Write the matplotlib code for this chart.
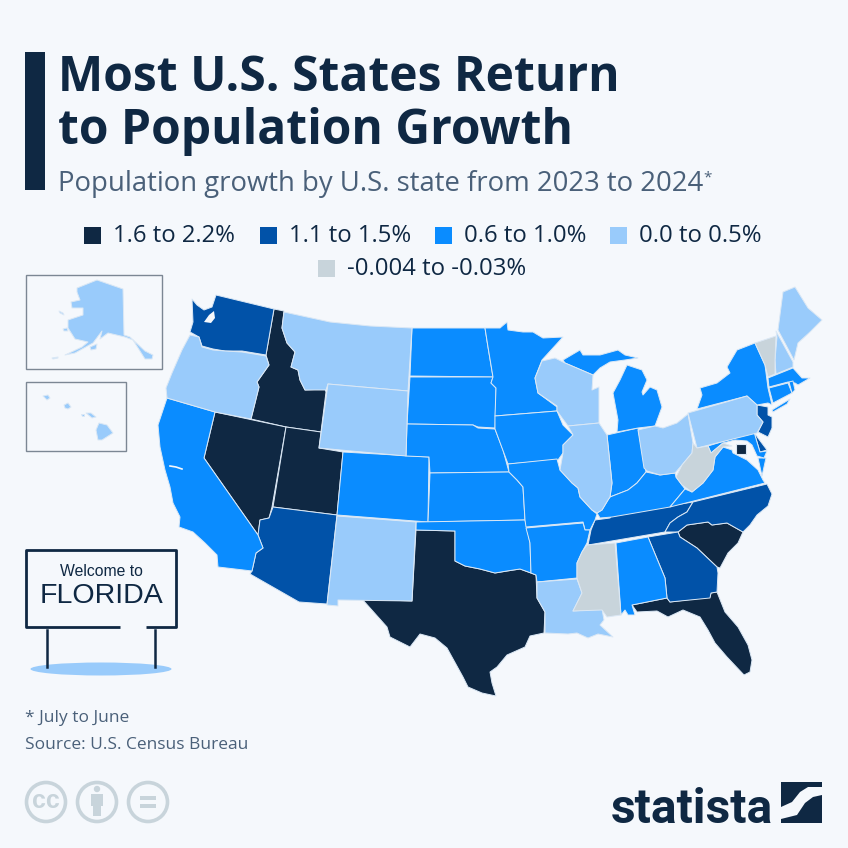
import matplotlib
matplotlib.use("Agg")
import matplotlib.pyplot as plt
from matplotlib.patches import Polygon, Ellipse, Rectangle, Circle

# state outlines (pixels)
WA = [(192,299),(197,305),(204,310),(212,307),(216,295),(274,309),(266,355),(242,351),(225,351),(213,349),(202,346),(199,337),(190,332),(193,322)]
OR = [(190,335),(199,337),(202,347),(213,350),(225,351),(242,352),(266,356),(269,365),(257,382),(259,387),(251,419),(215,412),(167,398),(166,388),(172,373),(182,350)]
CA = [(167,398),(215,412),(204,458),(258,535),(263,548),(256,553),(252,571),(218,567),(217,555),(205,543),(193,532),(179,527),(180,517),(173,503),(170,487),(165,470),(160,447),(158,425)]
NV = [(215,412),(286,427),(272,507),(269,518),(260,520),(258,535),(204,458)]
ID = [(274,309),(284,311),(282,328),(287,343),(295,352),(291,367),(298,370),(300,380),(305,390),(325,389),(326,392),(321,432),(286,427),(251,419),(259,387),(257,382),(269,365),(266,355)]
MT = [(284,312),(330,322),(370,326),(412,328),(408,391),(328,384),(326,390),(305,390),(300,380),(298,370),(291,367),(295,352),(287,343),(282,328)]
WY = [(328,384),(408,391),(406,456),(319,448)]
UT = [(286,427),(321,432),(319,448),(343,452),(337,515),(273,507)]
AZ = [(273,507),(337,515),(327,604),(299,602),(250,574),(252,571),(256,553),(263,548),(258,535),(260,520),(269,518)]
CO = [(343,452),(429,457),(428,522),(337,515)]
NM = [(337,516),(416,522),(412,601),(338,600),(338,606),(327,605)]
ND = [(412,328),(485,328),(488,347),(493,377),(410,376)]
SD = [(410,377),(493,377),(491,383),(496,388),(495,428),(478,427),(473,425),(407,424)]
NE = [(407,424),(473,425),(478,428),(495,429),(503,450),(509,472),(430,473),(429,457),(406,456)]
KS = [(430,473),(509,472),(517,480),(523,487),(525,520),(428,522)]
OK = [(416,522),(525,520),(527,528),(530,543),(531,573),(520,569),(507,571),(495,573),(480,569),(465,566),(455,561),(455,531),(416,530)]
TX = [(416,530),(455,531),(455,561),(465,566),(480,569),(495,573),(507,571),(520,569),(531,573),(536,575),(537,598),(545,612),(544,633),(530,636),(525,647),(507,655),(497,667),(490,672),(492,683),(496,696),(482,693),(468,687),(463,677),(447,648),(435,638),(420,634),(410,647),(390,637),(387,627),(362,599),(412,601)]
MN = [(485,328),(500,328),(507,322),(508,330),(523,332),(533,332),(543,338),(563,337),(542,360),(535,378),(538,393),(557,407),(557,411),(495,416),(496,388),(491,383),(493,377),(488,347)]
IA = [(495,416),(557,411),(563,425),(573,435),(563,445),(563,453),(558,460),(508,464),(495,429)]
MO = [(508,464),(557,459),(560,470),(572,483),(578,488),(580,497),(592,510),(597,514),(595,520),(590,530),(585,530),(583,522),(526,527),(525,520),(523,487),(517,480),(509,472)]
AR = [(526,528),(583,523),(585,530),(590,530),(587,543),(582,552),(577,563),(577,578),(537,582),(536,575),(531,573),(530,543)]
LA = [(537,582),(577,579),(582,593),(573,611),(602,609),(604,620),(600,625),(613,637),(598,634),(588,638),(577,633),(568,634),(545,633),(545,612),(537,598)]
MS = [(587,545),(615,543),(621,615),(607,617),(602,610),(573,611),(582,593),(577,578),(577,563),(582,552)]
AL = [(616,543),(648,537),(665,578),(667,598),(632,605),(635,615),(628,615),(625,610),(621,615)]
TN = [(595,520),(610,518),(612,515),(693,502),(687,512),(678,517),(670,523),(665,532),(588,545),(591,530)]
GA = [(648,537),(678,532),(680,537),(697,548),(717,567),(718,573),(717,592),(711,593),(710,598),(670,602),(667,598),(665,578)]
SC = [(678,532),(687,525),(708,522),(712,525),(727,523),(743,532),(738,543),(728,553),(720,568),(717,567),(697,548),(680,537)]
NC = [(767,484),(772,494),(768,506),(757,515),(750,525),(743,532),(727,523),(712,525),(708,522),(687,525),(678,532),(665,532),(670,523),(678,517),(687,512),(693,502)]
FL = [(632,605),(667,598),(670,602),(710,597),(711,593),(717,592),(725,612),(738,627),(748,645),(752,660),(750,672),(744,675),(727,657),(715,643),(708,630),(700,617),(683,610),(668,617),(657,611),(637,612)]
VA = [(670,507),(685,489),(692,492),(703,483),(713,470),(715,457),(723,447),(732,450),(733,453),(747,460),(758,470),(763,480),(765,483)]
VA_SHORE = [(758,458),(766,458),(762,476)]
WV = [(693,443),(697,448),(708,446),(711,453),(723,443),(732,446),(723,447),(715,457),(713,470),(703,483),(692,492),(682,485),(676,477),(682,465),(692,453)]
PA = [(688,413),(747,396),(757,405),(757,415),(763,422),(757,433),(697,448)]
OH = [(638,430),(655,426),(663,428),(677,423),(688,414),(693,443),(692,453),(682,465),(675,473),(660,475),(647,471),(644,468)]
IN = [(607,435),(638,428),(646,472),(637,483),(628,490),(610,497),(612,483)]
IL = [(568,426),(599,423),(607,435),(612,483),(610,497),(608,500),(602,510),(597,513),(592,510),(580,497),(578,488),(572,483),(560,470),(563,453),(563,445),(573,435)]
WI = [(542,361),(555,358),(565,363),(593,375),(592,390),(599,387),(599,423),(568,426),(557,411),(557,406),(538,393),(535,378)]
MI_LOWER = [(617,432),(638,428),(655,426),(662,407),(657,390),(650,387),(643,395),(642,392),(647,380),(642,370),(627,365),(620,380),(613,393),(618,420)]
MI_UPPER = [(563,360),(580,350),(583,355),(600,355),(618,350),(625,355),(638,358),(625,360),(610,362),(600,368),(593,375),(565,363)]
KY = [(610,497),(628,490),(637,483),(646,472),(660,475),(675,473),(676,477),(682,485),(685,489),(670,507),(612,517),(600,518),(597,513),(602,510),(608,500)]
NY = [(697,409),(702,395),(700,388),(717,383),(730,373),(727,367),(737,350),(755,343),(765,365),(768,388),(772,405),(768,403),(757,405),(747,396)]
LONG_ISLAND = [(772,410),(790,399),(787,404),(773,412)]
VT = [(755,343),(776,336),(775,360),(775,374),(768,377),(765,365)]
NH = [(776,331),(793,362),(793,367),(776,374),(775,360),(777,337)]
ME = [(778,330),(783,292),(795,287),(808,308),(822,320),(810,332),(798,343),(794,360)]
MA = [(768,378),(793,368),(802,378),(810,378),(798,385),(795,383),(788,382),(769,387)]
CT = [(769,388),(788,383),(792,393),(773,403)]
RI = [(789,382),(793,381),(795,390),(792,393)]
NJ = [(757,405),(768,407),(768,415),(772,417),(772,428),(768,437),(758,432),(763,422),(757,415)]
DE = [(754,432),(758,438),(767,450),(760,452)]
MD = [(708,446),(754,432),(760,452),(767,451),(764,458),(757,456),(752,445),(747,441),(735,440),(723,443),(711,453)]
AK = [(77,288),(97,280),(123,289),(124,335),(130,337),(145,351),(153,355),(152,359),(145,359),(133,340),(125,337),(108,333),(100,339),(102,331),(93,343),(75,353),(65,355),(82,347),(88,342),(75,339),(68,328),(68,320),(83,315),(83,308),(72,308),(71,302),(80,300),(77,292)]
AK_ISLE1 = [(59,311),(63,313),(64,315),(60,313)]
AK_ISLE2 = [(63,329),(67,328),(68,331),(64,331)]
AK_ISLE3 = [(90,347),(97,344),(96,349),(91,350)]
AK_ISLE4 = [(52,358),(58,357),(58,358),(53,359)]
HI_1 = [(43,396),(48,395),(50,398),(47,400)]
HI_2 = [(64,405),(68,403),(71,407),(68,409),(65,408)]
HI_3 = [(81,414),(84,414),(84,416),(82,416)]
HI_4 = [(86,413),(91,413),(96,417),(92,418)]
HI_5 = [(99,423),(107,425),(113,433),(102,440),(98,440),(96,430)]

# growth classes, see legend
labels = ["1.6 to 2.2%", "1.1 to 1.5%", "0.6 to 1.0%", "0.0 to 0.5%", "-0.004 to -0.03%"]
colors = ["#0f2843", "#0152a8", "#0a8cff", "#99cbfb", "#c8d4db"]
class_16_22 = [ID, NV, UT, TX, FL, SC]
class_11_15 = [WA, AZ, TN, NC, GA, NJ, DE]
class_06_10 = [CA, CO, ND, SD, NE, KS, OK, MN, IA, MO, AR, AL, IN, MI_LOWER, MI_UPPER, KY, VA, VA_SHORE, NY, LONG_ISLAND, MA, CT, RI, MD]
class_00_05 = [OR, MT, WY, NM, WI, IL, LA, OH, PA, ME, NH, AK, AK_ISLE1, AK_ISLE2, AK_ISLE3, AK_ISLE4, HI_1, HI_2, HI_3, HI_4, HI_5]
class_neg = [MS, WV, VT]

bg = "#f5f8fc"
dark = "#0f2843"
grey_text = "#4a6079"
edge = "#dbe8f5"

fig = plt.figure(figsize=(8.48, 8.48), dpi=100, facecolor=bg)
ax = fig.add_axes([0, 0, 1, 1])
ax.set_xlim(0, 848)
ax.set_ylim(848, 0)
ax.axis("off")

for group, c in zip([class_16_22, class_11_15, class_06_10, class_00_05, class_neg], colors):
    for shape in group:
        ax.add_patch(Polygon(shape, closed=True, fc=c, ec=edge, lw=0.7, joinstyle="round"))

# puget sound and sf bay
ax.add_patch(Polygon([(204,322),(209,315),(214,311),(215,318),(211,323)], fc=bg, ec="none"))
ax.plot([170, 176, 182], [466, 467, 469], color=bg, lw=1.2)

# dc
ax.add_patch(Rectangle((736, 444), 10, 10, fc=colors[0], ec=edge, lw=0.8))

# inset boxes
ax.add_patch(Rectangle((26, 275), 136, 94, fill=False, ec="#7c8794", lw=1))
ax.add_patch(Rectangle((26, 382), 100, 69, fill=False, ec="#7c8794", lw=1))

# title block
ax.add_patch(Rectangle((25, 52), 20, 138, fc=dark, ec="none"))
ax.text(58, 91, "Most U.S. States Return", fontsize=34.6, fontweight="bold", family="Open Sans", color=dark, va="baseline")
ax.text(58, 144, "to Population Growth", fontsize=34.6, fontweight="bold", family="Open Sans", color=dark, va="baseline")
ax.text(58, 191, "Population growth by U.S. state from 2023 to 2024", fontsize=19.8, family="Open Sans", color=grey_text, va="baseline")
ax.text(703, 181, "*", fontsize=11, family="Open Sans", color=grey_text, va="baseline")

# legend
legend_x = [84, 260, 435, 610, 318]
legend_y = [235, 235, 235, 235, 268]
for lx, ly, lab, c in zip(legend_x, legend_y, labels, colors):
    ax.add_patch(Rectangle((lx, ly - 8.5), 17, 17, fc=c, ec="none"))
    ax.text(lx + 29, ly + 1, lab, fontsize=17.2, family="Open Sans", color=dark, va="center")

# sign
ax.plot([120, 26, 26, 176, 176, 146], [627, 627, 550, 550, 627, 627], color=dark, lw=2, solid_joinstyle="round", solid_capstyle="butt")
ax.add_patch(Ellipse((101, 669), 141, 13, fc="#99cbfb", ec="none"))
ax.plot([47, 47], [630, 667], color=dark, lw=1.8)
ax.plot([155, 155], [630, 667], color=dark, lw=1.8)
ax.text(101, 571, "Welcome to", fontsize=11.3, family="Liberation Sans", color=dark, ha="center", va="center")
ax.text(101, 596, "FLORIDA", fontsize=20.5, family="Liberation Sans", color=dark, ha="center", va="center")

# notes
ax.text(25, 718, "* July to June", fontsize=12.5, family="Open Sans", color=grey_text, va="center")
ax.text(25, 745, "Source: U.S. Census Bureau", fontsize=12.5, family="Open Sans", color=grey_text, va="center")

# licence icons
cc_grey = "#c8d4db"
for cx in [46, 97, 148]:
    ax.add_patch(Circle((cx, 802), 19.5, fill=False, ec=cc_grey, lw=2.6))
ax.text(46, 801, "cc", fontsize=18, fontweight="bold", family="Liberation Sans", color=cc_grey, ha="center", va="center")
ax.add_patch(Circle((97, 789), 3.2, fc=cc_grey, ec="none"))
ax.add_patch(Rectangle((91, 794), 12, 12, fc=cc_grey, ec="none"))
ax.add_patch(Rectangle((93, 805), 8, 11, fc=cc_grey, ec="none"))
ax.add_patch(Rectangle((140, 796), 16, 4, fc=cc_grey, ec="none"))
ax.add_patch(Rectangle((140, 804), 16, 4, fc=cc_grey, ec="none"))

# wordmark
ax.text(611, 823, "statista", fontsize=34.5, fontweight="bold", family="Roboto", color=dark, va="baseline")
ax.add_patch(Polygon([(781,782),(822,782),(822,787),(808,787),(800,792),(792,802),(781,807)], fc=dark, ec="none"))
ax.add_patch(Polygon([(822,795),(813,797),(805,803),(797,815),(781,819),(781,823),(822,823)], fc=dark, ec="none"))

fig.savefig("out.png", dpi=100, facecolor=bg)
